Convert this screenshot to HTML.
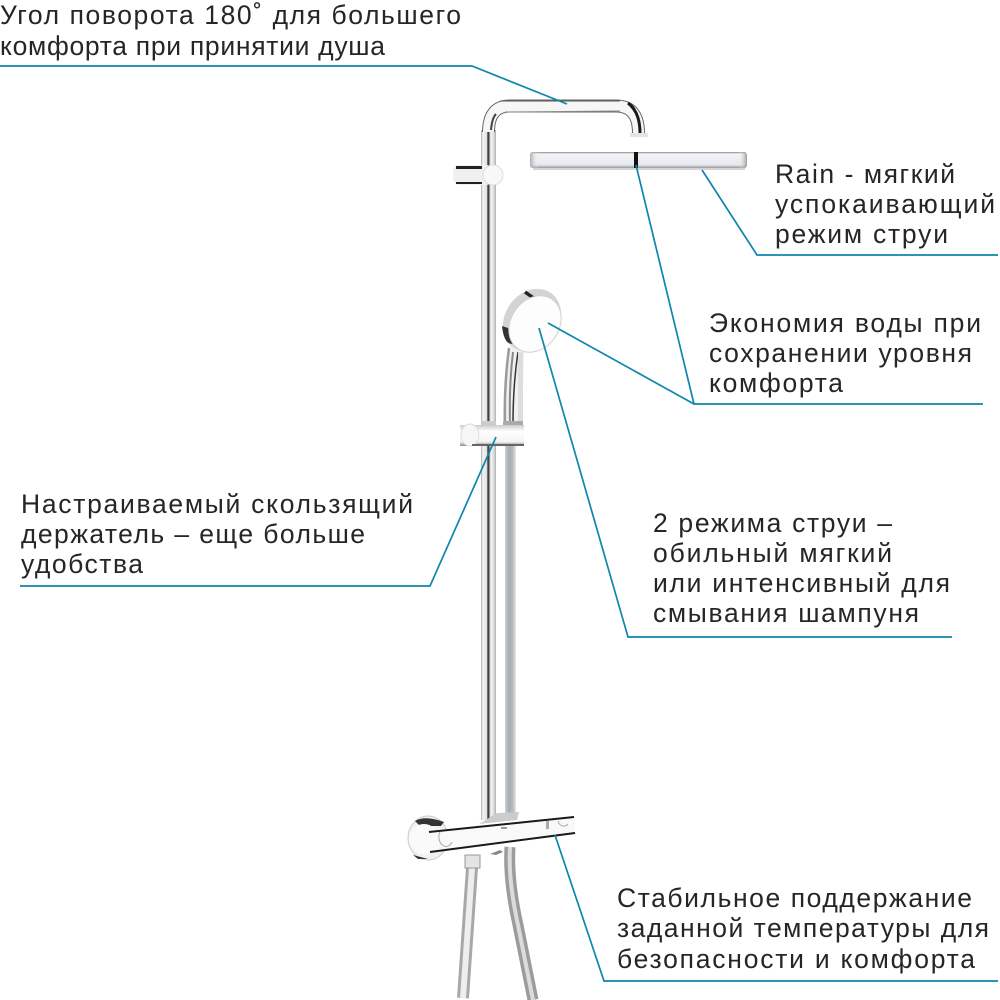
<!DOCTYPE html>
<html>
<head>
<meta charset="utf-8">
<style>
html,body{margin:0;padding:0;background:#fff;}
svg{display:block;}
text{font-family:"Liberation Sans",sans-serif;font-size:26.5px;fill:#262626;}
</style>
</head>
<body>
<svg width="1000" height="1000" viewBox="0 0 1000 1000" xmlns="http://www.w3.org/2000/svg">
<defs>
<linearGradient id="rail" x1="0" x2="1" y1="0" y2="0">
<stop offset="0" stop-color="#aaa"/><stop offset=".12" stop-color="#f2f2f2"/><stop offset=".38" stop-color="#e4e4e4"/><stop offset=".47" stop-color="#222"/><stop offset=".55" stop-color="#777"/><stop offset=".65" stop-color="#f6f6f6"/><stop offset=".88" stop-color="#d8d8d8"/><stop offset="1" stop-color="#aaa"/>
</linearGradient>
<linearGradient id="rail2" x1="0" x2="1" y1="0" y2="0">
<stop offset="0" stop-color="#d0d0d0"/><stop offset=".35" stop-color="#a6adb2"/><stop offset=".7" stop-color="#b4babd"/><stop offset="1" stop-color="#e8e8e8"/>
</linearGradient>
<linearGradient id="head" x1="0" x2="0" y1="0" y2="1">
<stop offset="0" stop-color="#888"/><stop offset=".12" stop-color="#f2f3f6"/><stop offset=".8" stop-color="#e6e9ef"/><stop offset="1" stop-color="#999"/>
</linearGradient>
<linearGradient id="headx" x1="0" x2="1" y1="0" y2="0">
<stop offset="0" stop-color="#999" stop-opacity=".8"/><stop offset=".04" stop-color="#fff" stop-opacity="0"/><stop offset=".96" stop-color="#fff" stop-opacity="0"/><stop offset="1" stop-color="#888" stop-opacity=".8"/>
</linearGradient>
<linearGradient id="clamp" x1="0" x2="0" y1="0" y2="1">
<stop offset="0" stop-color="#ccc"/><stop offset=".3" stop-color="#fff"/><stop offset=".8" stop-color="#f4f4f4"/><stop offset="1" stop-color="#888"/>
</linearGradient>
</defs>

<!-- second rail (hand shower) -->
<rect x="505" y="445" width="11" height="372" fill="url(#rail2)"/>
<!-- main rail -->
<rect x="481" y="130" width="15" height="690" fill="url(#rail)"/>
<!-- top arm -->
<path d="M488.5 132 Q488.5 106 510 106 L616 106 Q638.5 106 638.5 133" fill="none" stroke="#666" stroke-width="13"/>
<path d="M488.5 132 Q488.5 106 510 106 L616 106 Q638.5 106 638.5 133" fill="none" stroke="#f6f6f6" stroke-width="11"/>
<path d="M491 130 Q492 118 496 114" fill="none" stroke="#444" stroke-width="2"/>
<path d="M500 101 L620 101" stroke="#555" stroke-width="1"/>
<path d="M505 112 L620 111" stroke="#888" stroke-width="1"/>
<path d="M628 103 Q640 112 640 133" fill="none" stroke="#1a1a1a" stroke-width="3"/>
<rect x="630" y="133" width="18" height="4" fill="#e4e4e4"/>
<!-- head -->
<rect x="530" y="152" width="217" height="16" rx="3" fill="url(#head)"/>
<rect x="530" y="152" width="217" height="16" rx="3" fill="url(#headx)"/>
<rect x="634" y="152" width="4" height="16" fill="#111"/>
<rect x="533" y="168" width="212" height="2" fill="#d4d4d4"/>
<!-- upper clamp -->
<rect x="453" y="165" width="40" height="20" rx="7" fill="#f0f0f0"/>
<rect x="456" y="166" width="26" height="3" fill="#222"/>
<rect x="456" y="182" width="26" height="2" fill="#222"/>
<ellipse cx="493" cy="175" rx="10" ry="10" fill="#f8f8f8" stroke="#ddd" stroke-width="1"/>

<!-- hand shower handle -->
<path d="M510 345 Q503 380 503 424 L522 424 L524 350 Z" fill="#f0f0f0"/>
<path d="M509 348 Q504 385 505 424" fill="none" stroke="#9a9a9a" stroke-width="2.5"/>
<path d="M513 352 Q509 385 510 424" fill="none" stroke="#888" stroke-width="2"/>
<path d="M518 352 Q513 385 513 424" fill="none" stroke="#333" stroke-width="1.5"/>
<rect x="518" y="352" width="5" height="70" fill="#ddd"/>
<!-- hand shower head -->
<ellipse cx="532" cy="320" rx="27" ry="33" transform="rotate(35 532 320)" fill="#d4d4d4"/>
<path d="M502 326 Q504 345 513 344 L508 328 Z" fill="#333"/>
<path d="M525 292 L535 299" stroke="#222" stroke-width="3.5"/>
<ellipse cx="535" cy="324" rx="24" ry="30" transform="rotate(35 535 324)" fill="#fdfdfd" stroke="#d0d0d0" stroke-width="1"/>
<!-- slider -->
<rect x="460" y="425" width="64" height="21" fill="url(#clamp)"/>
<ellipse cx="470" cy="435" rx="9" ry="11" fill="#f6f6f6" stroke="#ddd"/>
<rect x="481" y="421" width="15" height="5" fill="#ccc"/>
<rect x="503" y="421" width="20" height="4" fill="#aaa"/>
<rect x="472" y="444" width="52" height="2" fill="#666"/>

<!-- hoses -->
<path d="M472 868 L463 998" fill="none" stroke="#a8a8a8" stroke-width="12"/>
<path d="M472 868 L463 998" fill="none" stroke="#eee" stroke-width="6"/>
<path d="M510 847 Q508 880 518 925 L533 1000" fill="none" stroke="#9c9c9c" stroke-width="11"/>
<path d="M510 847 Q508 880 518 925 L533 1000" fill="none" stroke="#dcdcdc" stroke-width="4"/>
<rect x="465" y="855" width="15" height="13" fill="#e4e4e4" stroke="#999" stroke-width="1"/>
<!-- bracket behind bar -->
<path d="M479 824 L517 820 L519 812 L497 813 Z" fill="#ccc"/>
<!-- wall mount -->
<ellipse cx="428" cy="838" rx="20" ry="22" fill="#f0f0f0" stroke="#ccc"/>
<path d="M415 821 Q425 815 444 822 L441 826 L420 826 Z" fill="#333"/>
<path d="M413 855 L428 859 L418 859 Z" fill="#333"/>
<circle cx="424" cy="839" r="15" fill="#fafafa"/>
<!-- thermostat bar -->
<path d="M429 832 L569 817 Q576 817 575 825 L575 833 L430 852 Z" fill="#f9f9f9"/>
<path d="M429 832 L574 817" stroke="#1a1a1a" stroke-width="2"/>
<path d="M430 852 L575 833" stroke="#1a1a1a" stroke-width="2"/>
<path d="M490 854 L500 850 L503 852 L496 855 Z" fill="#888"/>
<path d="M440 832 A6 8 0 0 0 452 842" fill="none" stroke="#aaa"/>
<path d="M558 821 A6 7 0 0 0 568 824" fill="none" stroke="#aaa"/>
<rect x="546" y="821" width="3" height="8" fill="#aaa"/>
<rect x="501" y="827" width="6" height="2" fill="#999"/>

<!-- connectors -->
<g fill="none" stroke="#0f86ad" stroke-width="1.7">
<polyline points="0,66 472,66 567,104"/>
<polyline points="702,170 757,255 998,255"/>
<polyline points="983,404 694,404 636,165"/>
<polyline points="694,404 548,323"/>
<polyline points="20,586 430,586 496,437"/>
<polyline points="952,637 628,637 539,328"/>
<polyline points="998,981 604,981 555,835"/>
</g>

<!-- text -->
<text x="0" y="24" textLength="461">Угол поворота 180˚ для большего</text>
<text x="0" y="55" textLength="385">комфорта при принятии душа</text>
<text x="775" y="183" textLength="180">Rain - мягкий</text>
<text x="775" y="213" textLength="220">успокаивающий</text>
<text x="775" y="243" textLength="173">режим струи</text>
<text x="709" y="332" textLength="272">Экономия воды при</text>
<text x="709" y="362" textLength="263">сохранении уровня</text>
<text x="709" y="392" textLength="134">комфорта</text>
<text x="21" y="513" textLength="392">Настраиваемый скользящий</text>
<text x="21" y="543" textLength="344">держатель – еще больше</text>
<text x="21" y="573" textLength="122">удобства</text>
<text x="653" y="532" textLength="239">2 режима струи –</text>
<text x="653" y="562" textLength="239">обильный мягкий</text>
<text x="653" y="592" textLength="297">или интенсивный для</text>
<text x="653" y="622" textLength="266">смывания шампуня</text>
<text x="617" y="907" textLength="355">Стабильное поддержание</text>
<text x="617" y="937" textLength="372">заданной температуры для</text>
<text x="617" y="968" textLength="358">безопасности и комфорта</text>
</svg>
</body>
</html>
